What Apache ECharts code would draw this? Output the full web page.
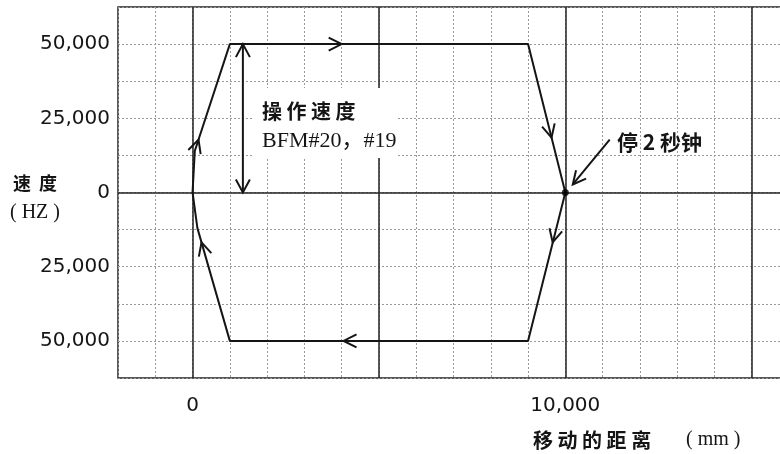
<!DOCTYPE html>
<html>
<head>
<meta charset="utf-8">
<script src="https://cdn.jsdelivr.net/npm/echarts@6/dist/echarts.min.js"></script>
<style>
  html, body { margin: 0; background: #fff; }
  #chart { width: 780px; height: 454px; }
</style>
</head>
<body>
<div id="chart"></div>
<script>
// 移动的距离 (mm) vs 速度 (Hz)
const pathX = [0, 60, 1000, 9000, 10000, 9000, 1000, 130, 0];
const pathY = [0, 14000, 50000, 50000, 0, -50000, -50000, -12000, 0];

// arrows along the path: [x, y, towardX, towardY]
const flowArrows = [
  [4000, 50000, 9000, 50000],
  [9630, 18500, 10000, 0],
  [9660, -16800, 9000, -50000],
  [4050, -50000, 1000, -50000],
  [240, -16800, 130, -12000],
  [160, 17800, 1000, 50000]
];

const speedArrow = [1350, 0, 1350, 50000];     // 操作速度
const stopPoint = [10000, 0];                   // 停2秒钟
const stopArrow = [11190, 17800, 10200, 2700];  // from -> to

const majorX = [0, 5000, 10000, 15000];
const majorY = [0];
const xTickValues = [0, 10000];
const xTickLabels = ['0', '10,000'];
const yTickValues = [50000, 25000, 0, -25000, -50000];
const yTickLabels = ['50,000', '25,000', '0', '25,000', '50,000'];

const ink = '#151515';
const cjk = '"Noto Sans CJK SC"';
const serif = '"Liberation Serif"';

// open V arrow head, tip at p, pointing toward q
function chevron(p, q, len, half) {
  const dx = q[0] - p[0], dy = q[1] - p[1];
  const d = Math.hypot(dx, dy) || 1;
  const ux = dx / d, uy = dy / d;
  const bx = p[0] - ux * len, by = p[1] - uy * len;
  return [[bx - uy * half, by + ux * half], p, [bx + uy * half, by - ux * half]];
}

const lineStyle = { stroke: ink, lineWidth: 2, fill: null };

const myChart = echarts.init(document.getElementById('chart'));
const option = {
  animation: false,
  grid: {
    left: 118, top: 7, width: 671, height: 371,
    outerBoundsMode: 'none',
    show: true,
    borderColor: '#222',
    borderWidth: 1.5
  },
  xAxis: {
    type: 'value',
    min: -2000,
    max: 16000,
    interval: 1000,
    axisLine: { show: false },
    axisTick: { show: false },
    axisLabel: {
      margin: 18,
      color: ink,
      fontFamily: 'DejaVu Sans',
      fontSize: 20,
      formatter: v => {
        const i = xTickValues.indexOf(v);
        return i < 0 ? '' : xTickLabels[i];
      }
    },
    splitLine: { lineStyle: { color: '#9a9a9a', type: [2, 2], width: 1 } }
  },
  yAxis: {
    type: 'value',
    min: -62500,
    max: 62500,
    interval: 12500,
    axisLine: { show: false },
    axisTick: { show: false },
    axisLabel: {
      margin: 8,
      color: ink,
      fontFamily: 'DejaVu Sans',
      fontSize: 20,
      formatter: v => {
        const i = yTickValues.indexOf(v);
        return i < 0 ? '' : yTickLabels[i];
      }
    },
    splitLine: { lineStyle: { color: '#9a9a9a', type: [2, 2], width: 1 } }
  },
  series: [
    {
      name: 'grid-major',
      type: 'line',
      data: [],
      markLine: {
        silent: true,
        symbol: 'none',
        label: { show: false },
        lineStyle: { color: '#222', width: 1.5, type: 'solid' },
        data: majorX.map(x => ({ xAxis: x })).concat(majorY.map(y => ({ yAxis: y })))
      }
    },
    {
      name: 'speed',
      type: 'line',
      z: 5,
      symbol: 'none',
      lineStyle: { color: ink, width: 2 },
      data: pathX.map((x, i) => [x, pathY[i]])
    },
    {
      name: 'flow',
      type: 'custom',
      z: 6,
      data: flowArrows,
      renderItem: (params, api) => {
        const p = api.coord([api.value(0), api.value(1)]);
        const q = api.coord([api.value(2), api.value(3)]);
        return { type: 'polyline', shape: { points: chevron(p, q, 13, 6.5) }, style: lineStyle };
      }
    },
    {
      name: 'speed-arrow',
      type: 'custom',
      z: 6,
      data: [speedArrow],
      renderItem: (params, api) => {
        const a = api.coord([api.value(0), api.value(1)]);
        const b = api.coord([api.value(2), api.value(3)]);
        return {
          type: 'group',
          children: [
            { type: 'line', shape: { x1: a[0], y1: a[1], x2: b[0], y2: b[1] }, style: lineStyle },
            { type: 'polyline', shape: { points: chevron(a, [a[0], a[1] + 10], 13, 7) }, style: lineStyle },
            { type: 'polyline', shape: { points: chevron(b, [b[0], b[1] - 10], 13, 7) }, style: lineStyle }
          ]
        };
      }
    },
    {
      name: 'stop-arrow',
      type: 'custom',
      z: 6,
      data: [stopArrow],
      renderItem: (params, api) => {
        const a = api.coord([api.value(0), api.value(1)]);
        const b = api.coord([api.value(2), api.value(3)]);
        return {
          type: 'group',
          children: [
            { type: 'line', shape: { x1: a[0], y1: a[1], x2: b[0], y2: b[1] }, style: lineStyle },
            { type: 'polyline', shape: { points: chevron(b, a, -13, 6.5) }, style: lineStyle }
          ]
        };
      }
    },
    {
      name: 'stop',
      type: 'scatter',
      z: 7,
      symbolSize: 7,
      itemStyle: { color: '#000' },
      data: [stopPoint]
    }
  ],
  graphic: [
    { type: 'rect', z: 100, shape: { x: 252, y: 88, width: 146, height: 70 }, style: { fill: '#fff' } },
    { type: 'text', z: 101, style: { text: '操 作 速 度', x: 262, y: 111, font: 'bold 20px ' + cjk, fill: ink, verticalAlign: 'middle' } },
    { type: 'text', z: 101, style: { text: 'BFM#20，#19', x: 262, y: 141, font: '22px ' + serif + ', ' + cjk, fill: ink, verticalAlign: 'middle' } },
    { type: 'text', z: 101, style: { text: '停 2 秒钟', x: 617, y: 142, font: 'bold 21px ' + cjk, fill: ink, verticalAlign: 'middle' } },
    { type: 'text', z: 101, style: { text: '速  度', x: 35, y: 183, font: 'bold 18px ' + cjk, fill: ink, align: 'center', verticalAlign: 'middle' } },
    { type: 'text', z: 101, style: { text: '( HZ )', x: 35, y: 213, font: '20px ' + serif, fill: ink, align: 'center', verticalAlign: 'middle' } },
    { type: 'text', z: 101, style: { text: '移 动 的 距 离', x: 533, y: 440, font: 'bold 20px ' + cjk, fill: ink, verticalAlign: 'middle' } },
    { type: 'text', z: 101, style: { text: '( mm )', x: 686, y: 440, font: '20px ' + serif, fill: ink, verticalAlign: 'middle' } }
  ]
};
myChart.setOption(option);
window.addEventListener('resize', function () {
  myChart.resize();
});
</script>
</body>
</html>
